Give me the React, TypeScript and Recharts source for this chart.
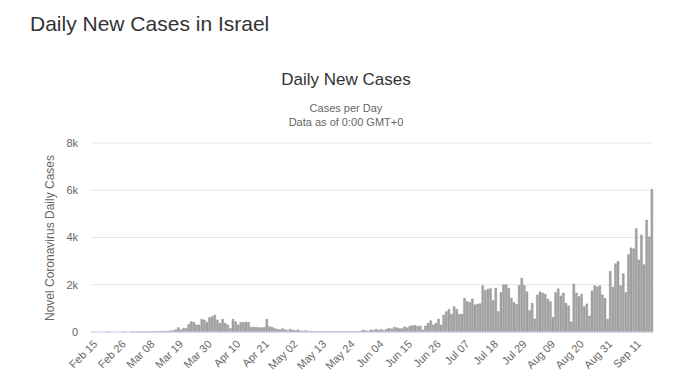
import { Bar, BarChart, CartesianGrid, XAxis, YAxis } from 'recharts';

// daily new cases
const febCases = [0, 0, 0, 0, 0, 0, 1, 0, 0, 0, 0, 0, 1, 0, 0]; // from Feb 15
const marCases = [
  3, 2, 5, 3, 4, 2, 6, 9, 11, 17, 20, 34, 34, 28, 40, 50, 60, 100, 185, 90, 155, 155, 325, 440, 410, 300, 300,
  540, 510, 410, 610,
];
const aprCases = [
  650, 720, 510, 370, 540, 370, 300, 150, 540, 440, 300, 400, 410, 410, 410, 200, 210, 200, 185, 185, 190, 540, 230,
  200, 155, 115, 100, 140, 100, 70,
];
const mayCases = [
  115, 85, 60, 90, 50, 30, 60, 20, 30, 15, 10, 20, 15, 10, 25, 20, 15, 10, 20, 15, 10, 25, 15, 12, 20, 10, 15, 30, 80,
  60, 40,
];
const junCases = [
  90, 70, 110, 80, 110, 60, 120, 160, 130, 200, 180, 150, 140, 220, 180, 250, 270, 280, 240, 255, 85, 255, 370, 480,
  300, 370, 550, 300, 720, 860,
];
const julCases = [
  960, 750, 1080, 960, 750, 750, 1430, 1290, 1250, 1400, 1150, 1180, 1200, 1960, 1760, 1820, 1840, 1330, 1860, 865,
  1670, 2000, 2000, 1860, 1430, 1250, 1180, 1970, 2280, 1970, 1700,
];
const augCases = [
  910, 1220, 550, 1570, 1700, 1650, 1600, 1390, 1280, 620, 1670, 1830, 1530, 1650, 1220, 1110, 430, 2030, 1650, 1500,
  1600, 1080, 1190, 680, 1740, 1960, 1910, 1960, 1570, 1420, 540,
];
const sepCases = [2570, 1900, 2890, 2990, 1960, 2470, 1670, 3280, 3560, 3520, 4380, 3050, 4110, 2850, 4740, 4030, 6040];

const tickLabels = [
  'Feb 15', 'Feb 26', 'Mar 08', 'Mar 19', 'Mar 30', 'Apr 10', 'Apr 21', 'May 02', 'May 13', 'May 24',
  'Jun 04', 'Jun 15', 'Jun 26', 'Jul 07', 'Jul 18', 'Jul 29', 'Aug 09', 'Aug 20', 'Aug 31', 'Sep 11',
];
const yTicks = [0, 2000, 4000, 6000, 8000];

const toRows = (month: string, firstDay: number, values: number[]) =>
  values.map((cases, i) => ({ date: `${month} ${String(firstDay + i).padStart(2, '0')}`, cases }));

const data = [
  ...toRows('Feb', 15, febCases),
  ...toRows('Mar', 1, marCases),
  ...toRows('Apr', 1, aprCases),
  ...toRows('May', 1, mayCases),
  ...toRows('Jun', 1, junCases),
  ...toRows('Jul', 1, julCases),
  ...toRows('Aug', 1, augCases),
  ...toRows('Sep', 1, sepCases),
];

const font = '"Liberation Sans", Arial, sans-serif';

function XTick({ x, y, payload }: any) {
  return (
    <g transform={`translate(${x + 3},${y + 2}) rotate(-45)`}>
      <text textAnchor="end" dy="0.35em" fill="#666" fontSize={11} fontFamily={font}>
        {payload.value}
      </text>
    </g>
  );
}

export default function App() {
  return (
    <div style={{ position: 'absolute', left: 0, top: 0, width: 673, height: 382, background: '#fff', fontFamily: font }}>
      <div style={{ position: 'absolute', left: 30, top: 11, fontSize: 21, color: '#333', lineHeight: '26px' }}>
        Daily New Cases in Israel
      </div>
      <div style={{ position: 'absolute', left: 0, width: 692, top: 70, textAlign: 'center', fontSize: 17, color: '#333' }}>
        Daily New Cases
      </div>
      <div
        style={{ position: 'absolute', left: 0, width: 692, top: 101, textAlign: 'center', fontSize: 11, color: '#666', lineHeight: '14px' }}
      >
        Cases per Day
        <br />
        Data as of 0:00 GMT+0
      </div>
      <div
        style={{
          position: 'absolute',
          left: 50,
          top: 238,
          transform: 'translate(-50%, -50%) rotate(-90deg)',
          whiteSpace: 'nowrap',
          fontSize: 12,
          color: '#666',
        }}
      >
        Novel Coronavirus Daily Cases
      </div>
      <BarChart
        width={673}
        height={382}
        data={data}
        margin={{ top: 143, right: 20, bottom: 0, left: 0 }}
        barCategoryGap="18%"
      >
        <CartesianGrid vertical={false} stroke="#e6e6e6" />
        <XAxis
          dataKey="date"
          ticks={tickLabels}
          interval={0}
          height={50}
          tickLine={false}
          axisLine={{ stroke: '#ccd6eb' }}
          tick={<XTick />}
        />
        <YAxis
          width={91}
          domain={[0, 8000]}
          ticks={yTicks}
          axisLine={false}
          tickLine={false}
          tickSize={0}
          tickMargin={13}
          tick={{ fill: '#666', fontSize: 11, fontFamily: font }}
          tickFormatter={(v: number) => (v === 0 ? '0' : `${v / 1000}k`)}
        />
        <Bar dataKey="cases" fill="#a3a3a3" stroke="#8a8a8a" strokeWidth={0.4} isAnimationActive={false} />
      </BarChart>
    </div>
  );
}
